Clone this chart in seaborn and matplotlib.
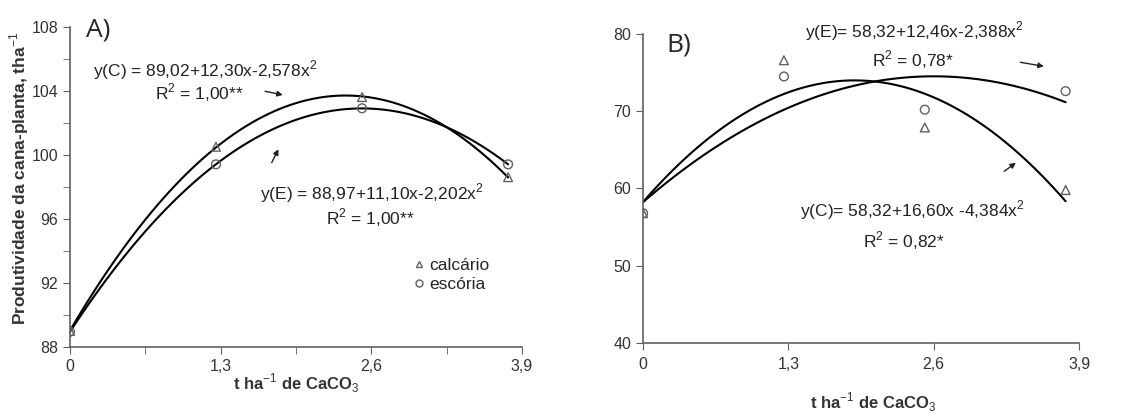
import numpy as np
import seaborn as sns
import matplotlib.pyplot as plt
from matplotlib.ticker import MultipleLocator
from matplotlib.lines import Line2D

# doses de CaCO3 (t/ha)
doses = [0, 1.26, 2.52, 3.78]

# A) produtividade da cana-planta
a_calcario = [89.0, 100.5, 103.6, 98.6]
a_escoria = [88.95, 99.4, 102.9, 99.4]

# B)
b_calcario = [56.8, 76.6, 67.9, 59.8]
b_escoria = [56.8, 74.5, 70.2, 72.6]

xticks = [0, 1.3, 2.6, 3.9]
xtick_labels = ["0", "1,3", "2,6", "3,9"]

sns.set_style("ticks")
plt.rcParams['font.family'] = ['Liberation Sans', 'DejaVu Sans']
plt.rcParams['mathtext.fontset'] = 'custom'
plt.rcParams['mathtext.rm'] = 'Liberation Sans'
plt.rcParams['mathtext.bf'] = 'Liberation Sans:bold'

fig = plt.figure(figsize=(11.41, 4.16), dpi=100)
axA = fig.add_axes([0.0613, 0.166, 0.3962, 0.770])
axB = fig.add_axes([0.5636, 0.1755, 0.3821, 0.7428])

grey = '#606060'
txt = '#222222'
fs = 12.5
line_kws = dict(color='black', lw=1.5)


def panel(ax, yc, ye):
    sns.regplot(x=doses, y=yc, order=2, ci=None, scatter=False, ax=ax, line_kws=line_kws)
    sns.regplot(x=doses, y=ye, order=2, ci=None, scatter=False, ax=ax, line_kws=line_kws)
    sns.scatterplot(x=doses, y=yc, marker='^', s=40, facecolor='none',
                    edgecolor=grey, linewidth=1, ax=ax, zorder=3)
    sns.scatterplot(x=doses, y=ye, marker='o', s=40, facecolor='none',
                    edgecolor=grey, linewidth=1, ax=ax, zorder=3)
    ax.set_xlim(0, 3.9)
    ax.set_xticks(xticks)
    ax.set_xticklabels(xtick_labels)
    sns.despine(ax=ax)
    for s in ['left', 'bottom']:
        ax.spines[s].set_color(grey)
        ax.spines[s].set_linewidth(1.2)
    ax.tick_params(colors=grey, labelcolor='#333333', labelsize=11.5, length=5)
    ax.tick_params(which='minor', colors=grey, length=5)


# ---- A ----
panel(axA, a_calcario, a_escoria)
axA.set_ylim(88, 108)
axA.set_yticks([88, 92, 96, 100, 104, 108])
axA.yaxis.set_minor_locator(MultipleLocator(2))
axA.xaxis.set_minor_locator(MultipleLocator(0.65))
axA.tick_params(axis='x', which='both', pad=4)
axA.set_ylabel("Produtividade da cana-planta, tha$^{-1}$", fontsize=12.5,
               fontweight='bold', color='#333333')
axA.yaxis.set_label_coords(-0.113, 0.528)
axA.yaxis.label.set_va('center')
axA.set_xlabel("t ha$^{-1}$ de CaCO$_3$", fontsize=12, fontweight='bold', color='#333333')
axA.xaxis.set_label_coords(0.5, -0.1125)
axA.xaxis.label.set_va('center')
axA.text(0.2, 105.3, "y(C) = 89,02+12,30x-2,578x$^2$", fontsize=fs, va='center', color=txt)
axA.text(1.12, 103.85, "R$^2$ = 1,00**", fontsize=fs, va='center', ha='center', color=txt)
axA.annotate("", xy=(1.86, 103.7), xytext=(1.66, 104.0),
             arrowprops=dict(arrowstyle='-|>', color=txt, lw=1, mutation_scale=8))
axA.text(1.64, 97.6, "y(E) = 88,97+11,10x-2,202x$^2$", fontsize=fs, va='center', color=txt)
axA.text(2.59, 96.04, "R$^2$ = 1,00**", fontsize=fs, va='center', ha='center', color=txt)
axA.annotate("", xy=(1.81, 100.5), xytext=(1.73, 99.36),
             arrowprops=dict(arrowstyle='-|>', color=txt, lw=1, mutation_scale=8))
handles = [Line2D([], [], marker='^', ls='none', mfc='none', mec=grey, ms=5),
           Line2D([], [], marker='o', ls='none', mfc='none', mec=grey, ms=5)]
axA.legend(handles, ["calcário", "escória"], loc='upper left', bbox_to_anchor=(0.745, 0.3),
           frameon=False, fontsize=fs, handlelength=0.6, handletextpad=0.3,
           labelspacing=0.25, borderaxespad=0)
fig.text(86 / 1141, 1 - 30 / 416, "A)", fontsize=19, va='center', family='Open Sans')

# ---- B ----
panel(axB, b_calcario, b_escoria)
axB.set_ylim(40, 80)
axB.set_yticks([40, 50, 60, 70, 80])
axB.tick_params(axis='x', pad=5)
axB.set_xlabel("t ha$^{-1}$ de CaCO$_3$", fontsize=12, fontweight='bold', color='#333333')
axB.xaxis.set_label_coords(0.527, -0.191)
axB.xaxis.label.set_va('center')
axB.text(1.45, 80.3, "y(E)= 58,32+12,46x-2,388x$^2$", fontsize=fs, va='center', color=txt)
axB.text(2.415, 76.66, "R$^2$ = 0,78*", fontsize=fs, va='center', ha='center', color=txt)
axB.annotate("", xy=(3.61, 75.75), xytext=(3.35, 76.4),
             arrowprops=dict(arrowstyle='-|>', color=txt, lw=1, mutation_scale=8))
axB.text(1.40, 57.2, "y(C)= 58,32+16,60x -4,384x$^2$", fontsize=fs, va='center', color=txt)
axB.text(2.33, 53.3, "R$^2$ = 0,82*", fontsize=fs, va='center', ha='center', color=txt)
axB.annotate("", xy=(3.355, 63.55), xytext=(3.21, 62.0),
             arrowprops=dict(arrowstyle='-|>', color=txt, lw=1, mutation_scale=8))
fig.text(666 / 1141, 1 - 45 / 416, "B)", fontsize=19, va='center', family='Open Sans')

fig.savefig("out.png", dpi=100)
